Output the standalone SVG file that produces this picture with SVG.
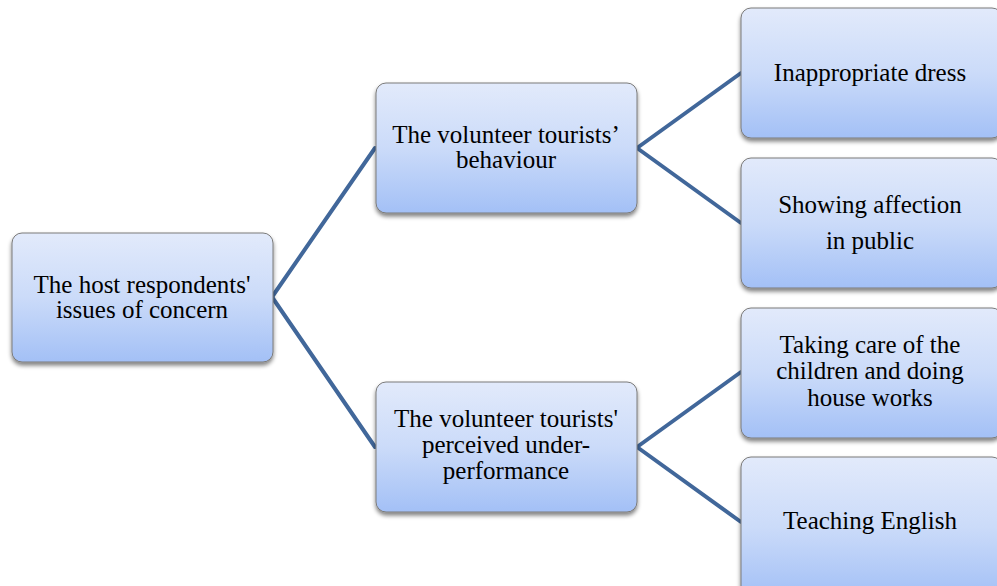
<svg xmlns="http://www.w3.org/2000/svg" width="997" height="586" viewBox="0 0 997 586">
  <style>
    .box { fill: url(#boxFill); stroke: #7a7a7a; stroke-width: 1; filter: url(#shadow); }
    .label { font-family: "Liberation Serif", "Times New Roman", serif; font-size: 25px; fill: #000; text-anchor: middle; }
    .link { stroke: #41679a; stroke-width: 4; fill: none; stroke-linecap: round; }
  </style>
  <defs>
    <linearGradient id="boxFill" x1="0" y1="0" x2="0" y2="1">
      <stop offset="0" stop-color="#e2eafb"/>
      <stop offset="0.5" stop-color="#cbdbf9"/>
      <stop offset="1" stop-color="#a3c0f6"/>
    </linearGradient>
    <filter id="shadow" x="-10%" y="-10%" width="120%" height="130%">
      <feGaussianBlur in="SourceAlpha" stdDeviation="2"/>
      <feOffset dx="0" dy="3" result="b"/>
      <feComponentTransfer><feFuncA type="linear" slope="0.5"/></feComponentTransfer>
      <feMerge><feMergeNode/><feMergeNode in="SourceGraphic"/></feMerge>
    </filter>
  </defs>

  <rect width="997" height="586" fill="#ffffff"/>

  <g id="connectors">
    <line class="link" x1="272" y1="297" x2="375" y2="148"/>
    <line class="link" x1="272" y1="297" x2="375" y2="447"/>
    <line class="link" x1="637" y1="148" x2="741" y2="73"/>
    <line class="link" x1="637" y1="148" x2="741" y2="223"/>
    <line class="link" x1="637" y1="447" x2="741" y2="372"/>
    <line class="link" x1="637" y1="447" x2="741" y2="522"/>
  </g>

  <g id="root">
    <rect class="box" x="12" y="233" width="261" height="129" rx="10"/>
    <text class="label" x="142" y="293">The host respondents'</text>
    <text class="label" x="142" y="318">issues of concern</text>
  </g>

  <g id="behaviour">
    <rect class="box" x="376" y="83" width="261" height="130" rx="10"/>
    <text class="label" x="506" y="143">The volunteer tourists’</text>
    <text class="label" x="506" y="168">behaviour</text>
  </g>

  <g id="underperformance">
    <rect class="box" x="376" y="382" width="261" height="130" rx="10"/>
    <text class="label" x="506" y="427">The volunteer tourists'</text>
    <text class="label" x="506" y="453">perceived under-</text>
    <text class="label" x="506" y="479">performance</text>
  </g>

  <g id="dress">
    <rect class="box" x="741" y="8" width="261" height="130" rx="10"/>
    <text class="label" x="870" y="81">Inappropriate dress</text>
  </g>

  <g id="affection">
    <rect class="box" x="741" y="158" width="261" height="130" rx="10"/>
    <text class="label" x="870" y="213">Showing affection</text>
    <text class="label" x="870" y="249">in public</text>
  </g>

  <g id="housework">
    <rect class="box" x="741" y="308" width="261" height="130" rx="10"/>
    <text class="label" x="870" y="353">Taking care of the</text>
    <text class="label" x="870" y="379">children and doing</text>
    <text class="label" x="870" y="406">house works</text>
  </g>

  <g id="english">
    <rect class="box" x="741" y="457" width="261" height="140" rx="10"/>
    <text class="label" x="870" y="529">Teaching English</text>
  </g>
</svg>
